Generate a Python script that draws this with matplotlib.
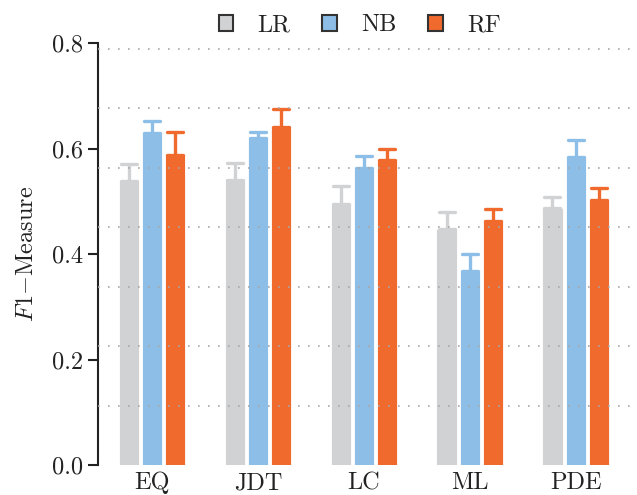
import numpy as np
import matplotlib
matplotlib.use("Agg")
import matplotlib.pyplot as plt
from matplotlib.markers import MarkerStyle

# F1 scores per project and classifier, with upper error
projects = ["EQ", "JDT", "LC", "ML", "PDE"]
models = ["LR", "NB", "RF"]
lr_f1 = [0.539, 0.540, 0.495, 0.448, 0.487]
lr_err = [0.032, 0.032, 0.033, 0.032, 0.022]
nb_f1 = [0.629, 0.619, 0.564, 0.368, 0.583]
nb_err = [0.023, 0.013, 0.022, 0.032, 0.033]
rf_f1 = [0.587, 0.641, 0.578, 0.463, 0.502]
rf_err = [0.044, 0.034, 0.022, 0.022, 0.023]
colors = ["#d1d2d4", "#8cbee7", "#f0692d"]

plt.rcParams["font.family"] = "serif"
plt.rcParams["font.serif"] = ["cmr10"]
plt.rcParams["mathtext.fontset"] = "cm"
plt.rcParams["axes.formatter.use_mathtext"] = True

fs = 17.5
fig = plt.figure(figsize=(6.37, 4.95), dpi=100)
ax = fig.add_axes([0.154, 0.0606, 0.838, 0.8525])

x = np.arange(len(projects))
w = 0.19
offs = [-0.22, 0.0, 0.22]
series = [(lr_f1, lr_err), (nb_f1, nb_err), (rf_f1, rf_err)]

for i, (vals, errs) in enumerate(series):
    ax.bar(x + offs[i], vals, width=w, color=colors[i], edgecolor="white",
           linewidth=0.6, zorder=2)
    eb = ax.errorbar(x + offs[i], vals, yerr=[np.zeros(len(vals)), errs],
                     fmt="none", ecolor=colors[i], elinewidth=2.4,
                     capsize=5.8, capthick=2.4, zorder=2)
    for cl in eb[1]:
        cl.set_marker(MarkerStyle("_", capstyle="round"))

# dotted guide lines
for g in np.linspace(0, 0.789, 8)[1:]:
    ax.axhline(g, color="#a8a8a8", linestyle=(0, (1, 5)), linewidth=1.2, zorder=3)

ax.set_xlim(-0.51, 4.53)
ax.set_ylim(0, 0.8)
ax.set_xticks(x)
ax.set_xticklabels(projects)
ax.set_yticks([0.0, 0.2, 0.4, 0.6, 0.8])
ax.set_yticklabels(["0.0", "0.2", "0.4", "0.6", "0.8"])
ax.tick_params(axis="x", length=0, labelsize=fs, pad=5, labelcolor="#222222")
ax.tick_params(axis="y", length=7, width=1.5, labelsize=fs, pad=4,
               color="#222222", labelcolor="#222222")

for s in ["top", "right", "bottom"]:
    ax.spines[s].set_visible(False)
ax.spines["left"].set_linewidth(1.5)
ax.spines["left"].set_color("#222222")
ax.spines["left"].set_bounds(0, 0.8)

ax.set_ylabel(r"$F1\mathrm{-Measure}$", fontsize=fs, color="#222222", labelpad=10)

handles = [plt.Rectangle((0, 0), 1, 1, facecolor=c, edgecolor="#333333",
                         linewidth=1.5) for c in colors]
ax.legend(handles, models, loc="upper center", bbox_to_anchor=(0.49, 1.12),
          ncol=3, frameon=False, fontsize=fs, handlelength=0.6,
          handleheight=0.6, handletextpad=1.0, columnspacing=1.3,
          labelcolor="#222222")

fig.savefig("out.png", dpi=100)
